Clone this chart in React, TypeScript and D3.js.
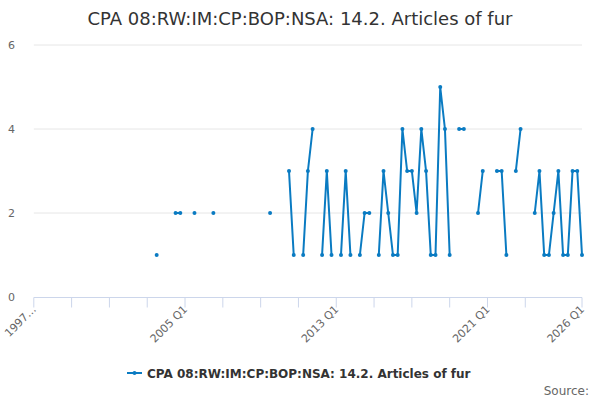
import * as d3 from "d3";

const title = "CPA 08:RW:IM:CP:BOP:NSA: 14.2. Articles of fur";
const seriesName = "CPA 08:RW:IM:CP:BOP:NSA: 14.2. Articles of fur";

const firstYear = 1997;
const quarters: string[] = [];
for (let i = 0; i <= 116; i++) {
  quarters.push(`${firstYear + Math.floor(i / 4)} Q${(i % 4) + 1}`);
}

// one row per year, Q1..Q4
const values: (number | null)[] = [
  null, null, null, null, // 1997
  null, null, null, null, // 1998
  null, null, null, null, // 1999
  null, null, null, null, // 2000
  null, null, null, null, // 2001
  null, null, null, null, // 2002
  null, null, 1, null, // 2003
  null, null, 2, 2, // 2004
  null, null, 2, null, // 2005
  null, null, 2, null, // 2006
  null, null, null, null, // 2007
  null, null, null, null, // 2008
  null, null, 2, null, // 2009
  null, null, 3, 1, // 2010
  null, 1, 3, 4, // 2011
  null, 1, 3, 1, // 2012
  null, 1, 3, 1, // 2013
  null, 1, 2, 2, // 2014
  null, 1, 3, 2, // 2015
  1, 1, 4, 3, // 2016
  3, 2, 4, 3, // 2017
  1, 1, 5, 4, // 2018
  1, null, 4, 4, // 2019
  null, null, 2, 3, // 2020
  null, null, 3, 3, // 2021
  1, null, 3, 4, // 2022
  null, null, 2, 3, // 2023
  1, 1, 2, 3, // 2024
  1, 1, 3, 3, // 2025
  1, // 2026
];

const tickIndexes = [0, 8, 16, 24, 32, 40, 48, 56, 64, 72, 80, 88, 96, 104, 116];
const labelledTicks: Record<number, string> = {
  0: "1997…",
  32: "2005 Q1",
  64: "2013 Q1",
  96: "2021 Q1",
  116: "2026 Q1",
};
const yTicks = [0, 2, 4, 6];

const color = "#0a7bc2";
const font = "'DejaVu Sans', Verdana, sans-serif";

export default function App() {
  const width = 600;
  const height = 400;
  const x = d3.scaleLinear().domain([0, quarters.length - 1]).range([33.8, 582]);
  const y = d3.scaleLinear().domain([0, 6]).range([297, 45]);

  const points = values.map((v, i) => ({ i, v }));
  const line = d3
    .line<{ i: number; v: number | null }>()
    .defined((d) => d.v != null)
    .x((d) => x(d.i))
    .y((d) => y(d.v as number));

  return (
    <svg
      width={width}
      height={height}
      style={{ position: "absolute", left: 0, top: 0, background: "#fff" }}
      fontFamily={font}
    >
      <text x={300} y={25} textAnchor="middle" fontSize={18} fill="#333">
        {title}
      </text>

      {yTicks.map((t) => (
        <g key={t}>
          {t > 0 && (
            <line x1={33.8} x2={582} y1={y(t)} y2={y(t)} stroke="#e6e6e6" strokeWidth={1} />
          )}
          <text x={15} y={y(t) + 4} textAnchor="end" fontSize={11} fill="#666">
            {t}
          </text>
        </g>
      ))}

      <line x1={33.8} x2={582} y1={297.5} y2={297.5} stroke="#ccd6eb" strokeWidth={1} />
      {tickIndexes.map((t) => (
        <line
          key={t}
          x1={x(t)}
          x2={x(t)}
          y1={297.5}
          y2={307.5}
          stroke="#ccd6eb"
          strokeWidth={1}
        />
      ))}
      {Object.entries(labelledTicks).map(([k, label]) => {
        const px = x(+k);
        return (
          <text
            key={k}
            transform={`translate(${px + 3},${310}) rotate(-45)`}
            textAnchor="end"
            fontSize={11}
            fill="#666"
          >
            {label}
          </text>
        );
      })}

      <path d={line(points) ?? ""} fill="none" stroke={color} strokeWidth={2} strokeLinejoin="round" />
      {points
        .filter((d) => d.v != null)
        .map((d) => (
          <circle key={d.i} cx={x(d.i)} cy={y(d.v as number)} r={2} fill={color} />
        ))}

      <line x1={127} x2={142} y1={373} y2={373} stroke={color} strokeWidth={2} />
      <circle cx={134.5} cy={373} r={2} fill={color} />
      <text x={147} y={377.5} fontSize={12} fontWeight="bold" fill="#333">
        {seriesName}
      </text>

      <text x={589} y={395} textAnchor="end" fontSize={12} fill="#666">
        Source:
      </text>
    </svg>
  );
}
